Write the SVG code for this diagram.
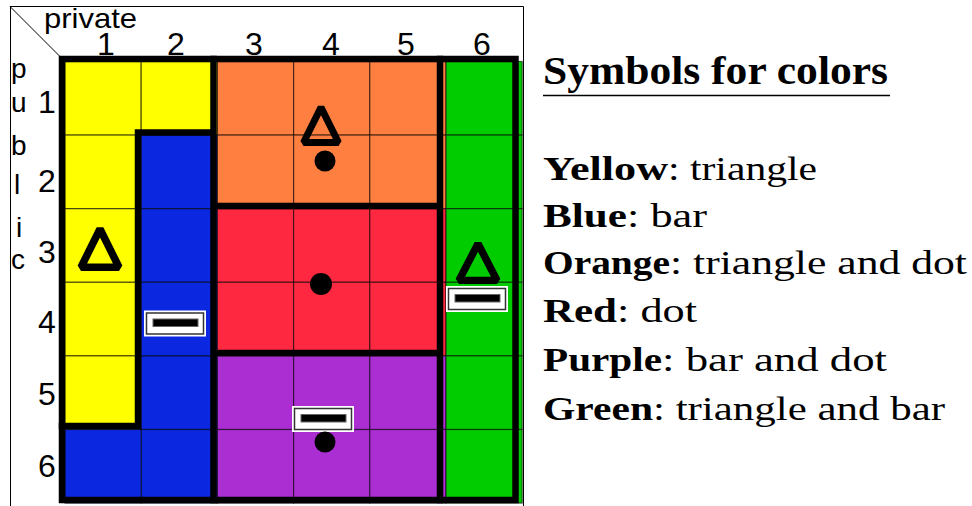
<svg xmlns="http://www.w3.org/2000/svg" width="972" height="506" viewBox="0 0 972 506">
<style>
.cell{stroke:#000;stroke-opacity:0.6;stroke-width:1.2}
.y{fill:#ffff00}.b{fill:#0b28e0}.o{fill:#fe7f40}.r{fill:#fe2840}.p{fill:#ab2ed3}.g{fill:#00cc00}
.thick{fill:none;stroke:#000;stroke-width:6.5;stroke-linecap:square}
.frame{fill:none;stroke:#000;stroke-width:1}
.lab{font-family:"Liberation Sans",Arial,sans-serif;fill:#000}
.num{font-size:32px;text-anchor:middle}
.pub{font-size:28px}
.leg{font-family:"Liberation Serif","Times New Roman",serif;font-size:33px;fill:#000}
.bold{font-weight:bold}
.tri{fill:none;stroke:#000;stroke-width:7.5;stroke-linejoin:bevel}
</style>
<defs>
<path id="tri" class="tri" d="M0,-42 L-19,-3.75 L19,-3.75 Z"/>
<g id="bar">
<rect x="0.5" y="0.5" width="61" height="25" fill="#fff" stroke="#fff" stroke-width="1"/>
<rect x="2.5" y="2.5" width="57" height="21" fill="#fff" stroke="#333" stroke-width="1.5"/>
<rect x="9" y="8.5" width="45" height="7.5" fill="#000" stroke="#666" stroke-width="1"/>
</g>
</defs>
<rect width="972" height="506" fill="#fff"/>
<g id="frame">
<path class="frame" d="M10,6.5 H523.5 V506 M10.5,6 V506 M10,6.5 L61,57.5" stroke="#333"/>
</g>
<g id="labels" class="lab">
<text x="44" y="28" font-size="28" textLength="93" lengthAdjust="spacingAndGlyphs">private</text>
<text class="num" x="106" y="55">1</text>
<text class="num" x="176" y="55">2</text>
<text class="num" x="254" y="55">3</text>
<text class="num" x="331" y="55">4</text>
<text class="num" x="406" y="55">5</text>
<text class="num" x="482" y="55">6</text>
<text class="num" x="47" y="113">1</text>
<text class="num" x="47" y="192">2</text>
<text class="num" x="47" y="263">3</text>
<text class="num" x="47" y="333">4</text>
<text class="num" x="47" y="405">5</text>
<text class="num" x="47" y="477">6</text>
<text class="pub" x="11" y="78">p</text>
<text class="pub" x="11" y="112">u</text>
<text class="pub" x="11" y="155">b</text>
<text class="pub" x="14" y="194">l</text>
<text class="pub" x="16" y="237">i</text>
<text class="pub" x="11" y="269">c</text>
</g>
<g id="yellow">
<rect class="cell y" x="65" y="61.5" width="76.2" height="73.6"/>
<rect class="cell y" x="141.2" y="61.5" width="76.2" height="73.6"/>
<rect class="cell y" x="65" y="135.1" width="76.2" height="73.6"/>
<rect class="cell y" x="65" y="208.7" width="76.2" height="73.6"/>
<rect class="cell y" x="65" y="282.3" width="76.2" height="73.6"/>
<rect class="cell y" x="65" y="355.9" width="76.2" height="73.6"/>
</g>
<g id="blue">
<rect class="cell b" x="141.2" y="135.1" width="76.2" height="73.6"/>
<rect class="cell b" x="141.2" y="208.7" width="76.2" height="73.6"/>
<rect class="cell b" x="141.2" y="282.3" width="76.2" height="73.6"/>
<rect class="cell b" x="141.2" y="355.9" width="76.2" height="73.6"/>
<rect class="cell b" x="141.2" y="429.5" width="76.2" height="73.6"/>
<rect class="cell b" x="65" y="429.5" width="76.2" height="73.6"/>
</g>
<g id="orange">
<rect class="cell o" x="217.4" y="61.5" width="76.2" height="73.6"/>
<rect class="cell o" x="293.6" y="61.5" width="76.2" height="73.6"/>
<rect class="cell o" x="369.8" y="61.5" width="76.2" height="73.6"/>
<rect class="cell o" x="217.4" y="135.1" width="76.2" height="73.6"/>
<rect class="cell o" x="293.6" y="135.1" width="76.2" height="73.6"/>
<rect class="cell o" x="369.8" y="135.1" width="76.2" height="73.6"/>
</g>
<g id="red">
<rect class="cell r" x="217.4" y="208.7" width="76.2" height="73.6"/>
<rect class="cell r" x="293.6" y="208.7" width="76.2" height="73.6"/>
<rect class="cell r" x="369.8" y="208.7" width="76.2" height="73.6"/>
<rect class="cell r" x="217.4" y="282.3" width="76.2" height="73.6"/>
<rect class="cell r" x="293.6" y="282.3" width="76.2" height="73.6"/>
<rect class="cell r" x="369.8" y="282.3" width="76.2" height="73.6"/>
</g>
<g id="purple">
<rect class="cell p" x="217.4" y="355.9" width="76.2" height="73.6"/>
<rect class="cell p" x="293.6" y="355.9" width="76.2" height="73.6"/>
<rect class="cell p" x="369.8" y="355.9" width="76.2" height="73.6"/>
<rect class="cell p" x="217.4" y="429.5" width="76.2" height="73.6"/>
<rect class="cell p" x="293.6" y="429.5" width="76.2" height="73.6"/>
<rect class="cell p" x="369.8" y="429.5" width="76.2" height="73.6"/>
</g>
<g id="green">
<rect class="cell g" x="446" y="61.5" width="76.2" height="73.6"/>
<rect class="cell g" x="446" y="135.1" width="76.2" height="73.6"/>
<rect class="cell g" x="446" y="208.7" width="76.2" height="73.6"/>
<rect class="cell g" x="446" y="282.3" width="76.2" height="73.6"/>
<rect class="cell g" x="446" y="355.9" width="76.2" height="73.6"/>
<rect class="cell g" x="446" y="429.5" width="76.2" height="73.6"/>
</g>
<g id="borders">
<rect class="thick" x="62" y="59" width="453.5" height="441"/>
<path class="thick" d="M213.5,59 V500 M440,59 V500 M213.5,132.5 H138 V426 H62 M213.5,206 H440 M213.5,353 H440"/>
</g>
<g id="symbols">
<use href="#tri" transform="translate(100,271)"/>
<use href="#tri" transform="translate(321,146) scale(0.92)"/>
<circle cx="325" cy="161" r="10.5" fill="#000"/>
<circle cx="321" cy="284" r="11" fill="#000"/>
<use href="#tri" transform="translate(478,284) scale(1,0.96)"/>
<use href="#bar" transform="translate(446,286)"/>
<use href="#bar" transform="translate(144,310.5)"/>
<use href="#bar" transform="translate(292,406)"/>
<circle cx="325" cy="442" r="10.5" fill="#000"/>
</g>
<g id="legend" class="leg">
<text class="bold" x="543" y="84" font-size="40" textLength="345" lengthAdjust="spacingAndGlyphs">Symbols for colors</text>
<line x1="543" y1="95.5" x2="890" y2="95.5" stroke="#000" stroke-width="1.5"/>
<text class="bold" x="543" y="180" textLength="125" lengthAdjust="spacingAndGlyphs">Yellow</text>
<text x="668" y="180" textLength="149" lengthAdjust="spacingAndGlyphs">: triangle</text>
<text class="bold" x="543" y="227" textLength="84" lengthAdjust="spacingAndGlyphs">Blue</text>
<text x="627" y="227" textLength="80" lengthAdjust="spacingAndGlyphs">: bar</text>
<text class="bold" x="543" y="274" textLength="127" lengthAdjust="spacingAndGlyphs">Orange</text>
<text x="670" y="274" textLength="297" lengthAdjust="spacingAndGlyphs">: triangle and dot</text>
<text class="bold" x="543" y="322" textLength="74" lengthAdjust="spacingAndGlyphs">Red</text>
<text x="617" y="322" textLength="80" lengthAdjust="spacingAndGlyphs">: dot</text>
<text class="bold" x="543" y="371" textLength="119" lengthAdjust="spacingAndGlyphs">Purple</text>
<text x="662" y="371" textLength="225" lengthAdjust="spacingAndGlyphs">: bar and dot</text>
<text class="bold" x="543" y="420" textLength="110" lengthAdjust="spacingAndGlyphs">Green</text>
<text x="653" y="420" textLength="292" lengthAdjust="spacingAndGlyphs">: triangle and bar</text>
</g>
</svg>
